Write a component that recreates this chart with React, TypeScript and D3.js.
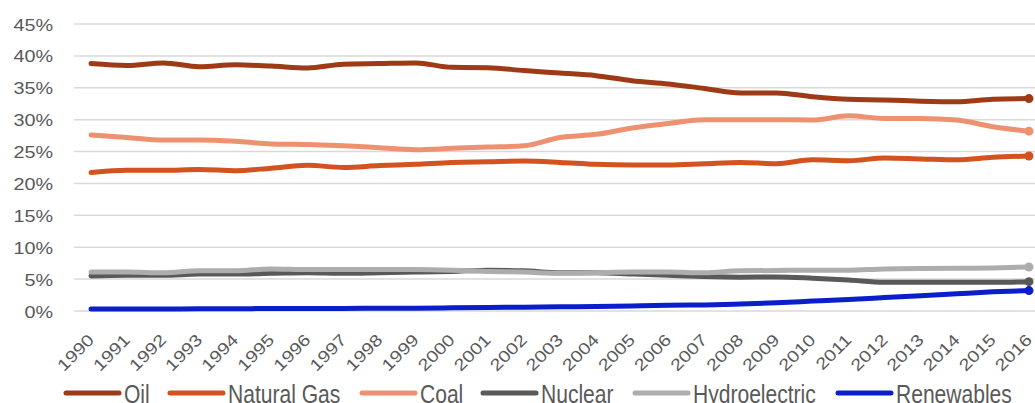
import React from "react";
import * as d3 from "d3";

// Share of world primary energy consumption by fuel, 1990–2016 (%)
const years: string[] = [
  "1990", "1991", "1992", "1993", "1994", "1995", "1996", "1997", "1998", "1999",
  "2000", "2001", "2002", "2003", "2004", "2005", "2006", "2007", "2008", "2009",
  "2010", "2011", "2012", "2013", "2014", "2015", "2016",
];

const oil = [
  38.8, 38.5, 38.9, 38.3, 38.6, 38.4, 38.1, 38.7, 38.8, 38.9,
  38.2, 38.15, 37.7, 37.3, 36.9, 36.1, 35.6, 34.9, 34.2, 34.2,
  33.6, 33.2, 33.1, 32.9, 32.8, 33.2, 33.3,
];
const naturalGas = [
  21.7, 22.05, 22.05, 22.2, 22.0, 22.4, 22.85, 22.5, 22.8, 23.0,
  23.3, 23.4, 23.5, 23.3, 23.0, 22.9, 22.9, 23.1, 23.3, 23.1,
  23.7, 23.55, 24.0, 23.85, 23.7, 24.1, 24.3,
];
const coal = [
  27.6, 27.2, 26.8, 26.8, 26.6, 26.2, 26.1, 25.9, 25.6, 25.3,
  25.5, 25.7, 25.9, 27.2, 27.7, 28.7, 29.4, 30.0, 30.0, 30.0,
  29.95, 30.6, 30.2, 30.2, 29.95, 28.9, 28.2,
];
const nuclear = [
  5.5, 5.6, 5.6, 5.8, 5.8, 5.9, 6.0, 5.9, 6.0, 6.1,
  6.2, 6.4, 6.3, 6.0, 6.0, 5.8, 5.6, 5.4, 5.3, 5.35,
  5.15, 4.85, 4.5, 4.5, 4.5, 4.5, 4.6,
];
const hydroelectric = [
  6.1, 6.1, 6.0, 6.3, 6.3, 6.6, 6.5, 6.5, 6.5, 6.5,
  6.4, 6.2, 6.1, 5.9, 6.0, 6.1, 6.1, 6.0, 6.3, 6.35,
  6.4, 6.4, 6.6, 6.65, 6.7, 6.75, 6.9,
];
const renewables = [
  0.3, 0.3, 0.3, 0.35, 0.35, 0.4, 0.4, 0.4, 0.45, 0.45,
  0.5, 0.55, 0.6, 0.65, 0.7, 0.8, 0.9, 0.95, 1.1, 1.3,
  1.55, 1.8, 2.1, 2.4, 2.7, 3.0, 3.2,
];

const seriesNames = ["Oil", "Natural Gas", "Coal", "Nuclear", "Hydroelectric", "Renewables"];
const seriesValues = [oil, naturalGas, coal, nuclear, hydroelectric, renewables];
const seriesColors = ["#9e3b16", "#d4521f", "#ee9170", "#595959", "#adadad", "#0a1fcb"];

const yTicks = [0, 5, 10, 15, 20, 25, 30, 35, 40, 45];

const WIDTH = 1035;
const HEIGHT = 403;
const FONT = "'Liberation Sans', Arial, Helvetica, sans-serif";
const TEXT_COLOR = "#595959";
const STRETCH = 1.2;

export default function App() {
  const x = d3.scalePoint<string>().domain(years).range([73, 1047]).padding(0.5);
  const y = d3.scaleLinear().domain([0, 45]).range([311, 24]);

  const line = d3
    .line<number>()
    .x((_, i) => x(years[i]) as number)
    .y((d) => y(d))
    .curve(d3.curveMonotoneX);

  const legendX = [66, 170, 362, 483, 635, 838];

  return (
    <svg
      width={WIDTH}
      height={HEIGHT}
      style={{ position: "absolute", left: 0, top: 0, background: "#fff" }}
      fontFamily={FONT}
    >
      {/* horizontal gridlines and y labels */}
      {yTicks.map((t) => (
        <g key={t}>
          <line x1={74} x2={1047} y1={y(t)} y2={y(t)} stroke="#d9d9d9" strokeWidth={1.5} />
          <text
            transform={`translate(53,${y(t) + 6.5}) scale(${STRETCH},1)`}
            textAnchor="end"
            fontSize={16.5}
            fill={TEXT_COLOR}
          >
            {t}%
          </text>
        </g>
      ))}

      {/* year labels */}
      {years.map((yr) => (
        <text
          key={yr}
          transform={`translate(${(x(yr) as number) + 4},${341}) rotate(-45) scale(${STRETCH},1)`}
          textAnchor="end"
          fontSize={16.5}
          fill={TEXT_COLOR}
        >
          {yr}
        </text>
      ))}

      {/* series */}
      {seriesValues.map((vals, si) => (
        <g key={seriesNames[si]}>
          <path
            d={line(vals) || ""}
            fill="none"
            stroke={seriesColors[si]}
            strokeWidth={5}
            strokeLinecap="round"
            strokeLinejoin="round"
          />
          <circle
            cx={x(years[years.length - 1]) as number}
            cy={y(vals[vals.length - 1])}
            r={4.5}
            fill={seriesColors[si]}
          />
        </g>
      ))}

      {/* legend */}
      {seriesNames.map((name, si) => (
        <g key={name}>
          <line
            x1={legendX[si]}
            x2={legendX[si] + 53}
            y1={393}
            y2={393}
            stroke={seriesColors[si]}
            strokeWidth={5}
            strokeLinecap="round"
          />
          <text
            transform={`translate(${legendX[si] + 58},403) scale(0.81,1)`}
            fontSize={26}
            fill={TEXT_COLOR}
          >
            {name}
          </text>
        </g>
      ))}
    </svg>
  );
}
